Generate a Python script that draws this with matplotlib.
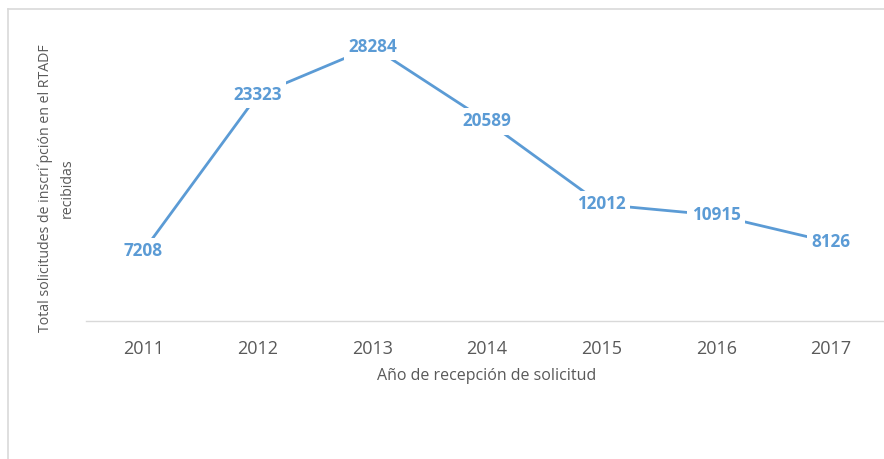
import matplotlib
matplotlib.use("Agg")
import matplotlib.pyplot as plt
from matplotlib.lines import Line2D

years = ["2011", "2012", "2013", "2014", "2015", "2016", "2017"]
values = [7208, 23323, 28284, 20589, 12012, 10915, 8126]

W, H = 884, 459
fig = plt.figure(figsize=(W / 100, H / 100), dpi=100)
plt.rcParams['font.family'] = ['Open Sans', 'DejaVu Sans']

blue = "#5B9BD5"
gray = "#595959"

ax = fig.add_axes([86 / W, 1 - 321 / H, (888 - 86) / W, (321 - 30) / H])
x = list(range(len(years)))
ax.plot(x, values, color=blue, linewidth=2.0, solid_capstyle='round', zorder=2)
for xi, v in zip(x, values):
    ax.text(xi, v, f"{v}", ha="center", va="center", fontsize=12.3, fontweight="bold",
            color=blue, zorder=3,
            bbox=dict(boxstyle="square,pad=0.25", fc="white", ec="none"))

ax.set_xlim(-0.5, len(years) - 0.5)
ax.set_ylim(0, 30000)
ax.set_xticks(x)
ax.set_xticklabels(years, fontsize=13, color=gray)
ax.tick_params(axis="x", length=0, pad=14)
ax.set_yticks([])
for s in ["top", "right", "left"]:
    ax.spines[s].set_visible(False)
ax.spines["bottom"].set_color("#D9D9D9")
ax.spines["bottom"].set_linewidth(1.0)
ax.set_facecolor("none")

fig.text(487 / W, 1 - 376 / H, "Año de recepción de solicitud", ha="center", va="center",
         fontsize=11.5, color=gray)
fig.text(56 / W, 1 - 188 / H, "Total solicitudes de inscri\u00b4pción en el RTADF\nrecibidas",
         ha="center", va="center", rotation=90, fontsize=10.2, color=gray,
         multialignment="center", linespacing=1.6)

# chart border (cropped)
fig.add_artist(Line2D([8 / W, 8 / W], [0, 1 - 9 / H], color="#D9D9D9", linewidth=1.2,
                      transform=fig.transFigure))
fig.add_artist(Line2D([8 / W, 1], [1 - 9 / H, 1 - 9 / H], color="#D9D9D9", linewidth=1.2,
                      transform=fig.transFigure))

fig.savefig("out.png", dpi=100)
